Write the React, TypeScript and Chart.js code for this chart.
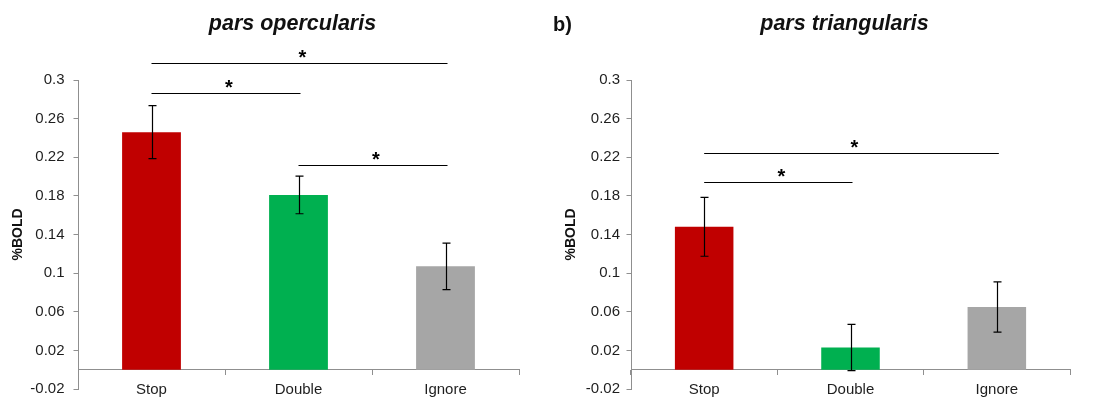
import React, { useEffect, useRef } from 'react';
import { Chart, registerables } from 'chart.js';

Chart.register(...registerables);

const categories = ['Stop', 'Double', 'Ignore'];
const barColors = ['#C00000', '#00B050', '#A6A6A6'];
const yTickValues = [-0.02, 0.02, 0.06, 0.1, 0.14, 0.18, 0.22, 0.26, 0.3];
const yAxisTitle = '%BOLD';

const opercularisTitle = 'pars opercularis';
const opercularisMeans = [0.246, 0.181, 0.107];
const opercularisErrors = [0.0275, 0.0195, 0.024];
const opercularisSigFrom = [0, 0, 1];
const opercularisSigTo = [2, 1, 2];
const opercularisSigLevel = [0.318, 0.287, 0.212];

const triangularisTitle = 'pars triangularis';
const triangularisMeans = [0.148, 0.023, 0.065];
const triangularisErrors = [0.0305, 0.024, 0.026];
const triangularisSigFrom = [0, 0];
const triangularisSigTo = [2, 1];
const triangularisSigLevel = [0.224, 0.1945];

const FONT = '"Liberation Sans", Arial, Helvetica, sans-serif';
const AXIS_COLOR = '#8f8f8f';
const TEXT_COLOR = '#1e1e1e';

type PanelProps = {
  left: number;
  width: number;
  title: string;
  means: number[];
  errors: number[];
  sigFrom: number[];
  sigTo: number[];
  sigLevel: number[];
  padLeft: number;
  axisX: number;
  yTitlePad: number;
  yLabelPad: number;
  letter?: string;
};

function Panel(p: PanelProps) {
  const ref = useRef<HTMLCanvasElement | null>(null);

  useEffect(() => {
    if (!ref.current) return;
    const overlay = {
      id: 'overlay',
      afterDatasetsDraw(chart: any) {
        const ctx = chart.ctx;
        const xs = chart.scales.x;
        const ys = chart.scales.y;
        const meta = chart.getDatasetMeta(0);
        ctx.save();
        ctx.strokeStyle = '#000';
        ctx.lineWidth = 1.2;
        p.means.forEach((m, i) => {
          const x = Math.round(meta.data[i].x) + 0.5;
          const yT = ys.getPixelForValue(m + p.errors[i]);
          const yB = ys.getPixelForValue(m - p.errors[i]);
          ctx.beginPath();
          ctx.moveTo(x, yT);
          ctx.lineTo(x, yB);
          ctx.moveTo(x - 4, yT);
          ctx.lineTo(x + 4, yT);
          ctx.moveTo(x - 4, yB);
          ctx.lineTo(x + 4, yB);
          ctx.stroke();
        });
        p.sigLevel.forEach((lvl, i) => {
          const x1 = xs.getPixelForValue(p.sigFrom[i]);
          const x2 = xs.getPixelForValue(p.sigTo[i]) + 2;
          const y = Math.round(ys.getPixelForValue(lvl)) + 0.5;
          ctx.beginPath();
          ctx.moveTo(x1, y);
          ctx.lineTo(x2, y);
          ctx.stroke();
          ctx.fillStyle = '#000';
          ctx.font = `bold 20px ${FONT}`;
          ctx.textAlign = 'center';
          ctx.textBaseline = 'alphabetic';
          ctx.fillText('*', (x1 + x2) / 2 + 3, y + 0.5);
        });
        const ca = chart.chartArea;
        ctx.fillStyle = '#111';
        ctx.font = `italic bold 21.5px ${FONT}`;
        ctx.textAlign = 'center';
        ctx.textBaseline = 'middle';
        ctx.fillText(p.title, (ca.left + ca.right) / 2 - 6, 24);
        if (p.letter) {
          ctx.font = `bold 20px ${FONT}`;
          ctx.textAlign = 'left';
          ctx.fillText(p.letter, 3, 25);
        }
        ctx.restore();
      },
    };

    const chart = new Chart(ref.current, {
      type: 'bar',
      data: {
        labels: categories,
        datasets: [
          {
            data: p.means,
            backgroundColor: barColors,
            borderWidth: 0,
            barPercentage: 0.8,
            categoryPercentage: 0.5,
          },
        ],
      },
      options: {
        responsive: false,
        animation: false,
        layout: { padding: { left: p.padLeft, right: 31, top: 80, bottom: 12 } },
        plugins: {
          legend: { display: false },
          tooltip: { enabled: false },
          title: { display: false },
        },
        scales: {
          x: {
            position: { y: 0 } as any,
            offset: true,
            afterFit: (scale: any) => {
              scale.height = 0;
              scale.paddingTop = 0;
              scale.paddingBottom = 0;
            },
            grid: {
              display: true,
              drawOnChartArea: false,
              drawTicks: true,
              tickLength: 5,
              color: AXIS_COLOR,
              offset: true,
            },
            border: { display: true, color: AXIS_COLOR, width: 1 },
            ticks: {
              color: TEXT_COLOR,
              font: { family: FONT, size: 15 },
              padding: 6,
              maxRotation: 0,
            },
          },
          y: {
            min: -0.02,
            max: 0.3,
            afterBuildTicks: (scale: any) => {
              scale.ticks = yTickValues.map((v) => ({ value: v }));
            },
            afterFit: (scale: any) => {
              scale.width = p.axisX - p.padLeft;
              scale.paddingTop = 0;
              scale.paddingBottom = 0;
            },
            grid: {
              display: true,
              drawOnChartArea: false,
              drawTicks: true,
              tickLength: 4.5,
              color: AXIS_COLOR,
            },
            border: { display: true, color: AXIS_COLOR, width: 1 },
            ticks: {
              color: TEXT_COLOR,
              font: { family: FONT, size: 15 },
              padding: p.yLabelPad,
              callback: (v: any) => String(v),
            },
            title: {
              display: true,
              text: yAxisTitle,
              color: '#111',
              font: { family: FONT, size: 14, weight: 'bold' },
              padding: { top: p.yTitlePad, bottom: 0 },
            },
          },
        },
      },
      plugins: [overlay],
    } as any);
    return () => chart.destroy();
  }, []);

  return (
    <canvas
      ref={ref}
      width={p.width}
      height={401}
      style={{ position: 'absolute', left: p.left, top: 0, width: p.width, height: 401, display: 'block' }}
    />
  );
}

export default function App() {
  return (
    <div style={{ position: 'absolute', left: 0, top: 0, width: 1101, height: 401, background: '#fff', overflow: 'hidden' }}>
      <Panel
        left={0}
        width={550}
        title={opercularisTitle}
        means={opercularisMeans}
        errors={opercularisErrors}
        sigFrom={opercularisSigFrom}
        sigTo={opercularisSigTo}
        sigLevel={opercularisSigLevel}
        padLeft={4}
        axisX={78}
        yTitlePad={6}
        yLabelPad={9}
      />
      <Panel
        left={550}
        width={551}
        title={triangularisTitle}
        means={triangularisMeans}
        errors={triangularisErrors}
        sigFrom={triangularisSigFrom}
        sigTo={triangularisSigTo}
        sigLevel={triangularisSigLevel}
        padLeft={6}
        axisX={81}
        yTitlePad={7}
        yLabelPad={6.5}
        letter="b)"
      />
    </div>
  );
}
